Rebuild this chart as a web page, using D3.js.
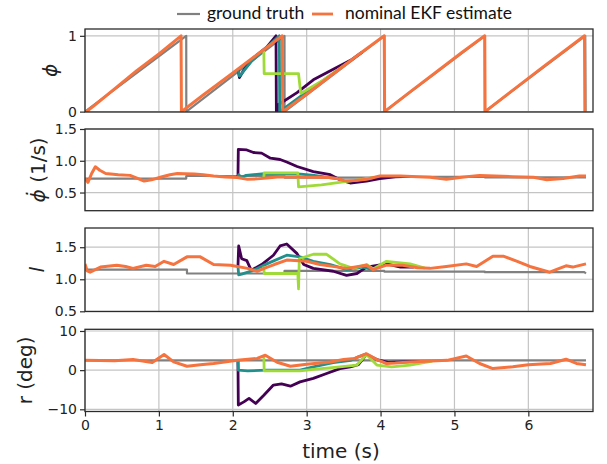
<!DOCTYPE html>
<html><head><meta charset="utf-8">
<script src="https://cdn.jsdelivr.net/npm/d3@7"></script>
<style>
html,body{margin:0;padding:0;background:#fff;}
svg{display:block;}
</style></head>
<body>
<svg id="chart" width="607" height="464"></svg>
<script>
// ---------- data (time in s, value) ----------
const xTicks = [0,1,2,3,4,5,6];
const legendLabels = ["ground truth","nominal EKF estimate"];

// panel 1: phase phi
const phiTruth = [[0,0],[1.37,1],[1.371,0],[2.70,1],[2.701,0],[4.05,1],[4.051,0],[5.41,1],[5.411,0],[6.77,1],[6.775,0]];
const phiEst = [[0.02,0],[0.15,0.1],[0.4,0.3],[0.7,0.54],[1.0,0.76],[1.30,1.0],[1.305,0],[1.6,0.22],[2.0,0.51],[2.3,0.73],[2.67,1.0],[2.675,0],[3.0,0.23],[3.36,0.5],[3.7,0.75],[4.05,1.0],[4.055,0],[4.4,0.26],[4.75,0.52],[5.1,0.78],[5.41,1.0],[5.415,0],[5.8,0.29],[6.2,0.59],[6.5,0.81],[6.76,1.0],[6.765,0]];
const phiPurple = [[2.07,0.56],[2.09,0.45],[2.15,0.55],[2.28,0.71],[2.46,0.85],[2.585,1.0],[2.59,0],[2.61,0],[2.615,0.09],[2.87,0.25],[3.09,0.42],[3.36,0.56],[3.6,0.68],[3.75,0.786]];
const phiTeal = [[2.07,0.56],[2.09,0.47],[2.12,0.5],[2.25,0.66],[2.45,0.84],[2.63,1.0],[2.635,0],[3.0,0.26],[3.4,0.53]];
const phiLime = [[2.42,0.8],[2.425,0.5],[2.89,0.5],[2.92,0.24],[3.2,0.40],[3.55,0.64]];

// panel 2: phase rate
const dphiTruth = [[0,0.72],[1.37,0.72],[1.37,0.76],[2.70,0.76],[2.70,0.735],[4.05,0.735],[4.05,0.745],[5.41,0.745],[5.41,0.74],[6.78,0.74]];
const dphiEst = [[0,0.72],[0.04,0.66],[0.09,0.8],[0.14,0.905],[0.2,0.85],[0.28,0.80],[0.45,0.78],[0.61,0.77],[0.72,0.72],[0.8,0.68],[0.9,0.70],[1.02,0.74],[1.15,0.78],[1.25,0.80],[1.35,0.795],[1.48,0.79],[1.6,0.78],[1.74,0.76],[1.9,0.745],[2.06,0.735],[2.2,0.71],[2.33,0.715],[2.46,0.73],[2.64,0.75],[2.85,0.745],[3.09,0.74],[3.3,0.735],[3.41,0.72],[3.5,0.69],[3.56,0.685],[3.65,0.69],[3.81,0.71],[3.99,0.76],[4.27,0.76],[4.5,0.75],[4.67,0.74],[4.89,0.71],[5.1,0.74],[5.34,0.77],[5.55,0.76],[5.79,0.75],[6.07,0.74],[6.25,0.70],[6.47,0.72],[6.69,0.76],[6.78,0.76]];
const dphiPurple = [[2.07,0.735],[2.075,1.18],[2.19,1.17],[2.28,1.13],[2.39,1.12],[2.51,1.04],[2.64,1.02],[2.73,0.98],[2.87,0.91],[3.09,0.83],[3.32,0.78],[3.45,0.70],[3.59,0.65],[3.81,0.68],[3.99,0.72],[4.2,0.745],[4.4,0.753]];
const dphiTeal = [[2.07,0.735],[2.08,0.78],[2.12,0.74],[2.18,0.77],[2.46,0.80],[2.92,0.79],[3.1,0.77],[3.4,0.72]];
const dphiLime = [[2.42,0.73],[2.425,0.81],[2.88,0.81],[2.89,0.59],[3.2,0.62],[3.52,0.67],[3.7,0.70],[3.9,0.735]];

// panel 3: l
const lTruth = [[0,1.15],[1.38,1.15],[1.38,1.09],[2.70,1.09],[2.70,1.13],[4.05,1.13],[4.05,1.12],[5.41,1.12],[5.41,1.11],[6.76,1.11],[6.78,1.09]];
const lEst = [[0,1.24],[0.03,1.13],[0.07,1.11],[0.21,1.19],[0.43,1.22],[0.55,1.2],[0.65,1.17],[0.83,1.22],[0.95,1.2],[1.07,1.28],[1.2,1.23],[1.38,1.35],[1.56,1.35],[1.74,1.23],[1.97,1.22],[2.2,1.17],[2.33,1.125],[2.45,1.18],[2.56,1.23],[2.73,1.30],[3.0,1.28],[3.18,1.23],[3.54,1.17],[3.7,1.2],[3.81,1.22],[3.9,1.15],[4.08,1.22],[4.3,1.22],[4.5,1.18],[4.67,1.17],[4.89,1.2],[5.16,1.24],[5.30,1.2],[5.52,1.36],[5.66,1.36],[5.85,1.28],[6.02,1.2],[6.29,1.11],[6.42,1.17],[6.51,1.21],[6.6,1.19],[6.78,1.24]];
const lPurple = [[2.07,1.2],[2.08,1.52],[2.12,1.32],[2.19,1.29],[2.25,1.14],[2.39,1.23],[2.55,1.375],[2.64,1.52],[2.73,1.55],[2.87,1.40],[2.96,1.23],[3.09,1.17],[3.36,1.125],[3.54,1.06],[3.68,1.09],[3.81,1.19],[4.08,1.24],[4.27,1.19],[4.45,1.19]];
const lTeal = [[2.07,1.2],[2.08,1.07],[2.12,1.08],[2.28,1.14],[2.46,1.24],[2.73,1.375],[2.91,1.35],[3.09,1.28],[3.32,1.23],[3.54,1.15],[3.76,1.19],[3.9,1.15]];
const lLime = [[2.42,1.2],[2.425,1.09],[2.88,1.09],[2.89,0.85],[2.90,1.32],[3.09,1.39],[3.27,1.39],[3.45,1.24],[3.63,1.17],[3.81,1.23],[3.9,1.16],[4.08,1.28],[4.4,1.24],[4.6,1.175]];

// panel 4: r (deg)
const rTruth = [[0,2.5],[6.78,2.5]];
const rEst = [[0,2.5],[0.4,2.4],[0.65,2.7],[0.91,1.95],[1.07,4.0],[1.2,2.1],[1.38,1.0],[1.56,1.4],[1.74,1.7],[2.06,2.5],[2.33,3.0],[2.44,3.8],[2.6,2.0],[2.78,1.0],[3.0,1.5],[3.32,2.1],[3.5,2.7],[3.65,3.0],[3.81,4.2],[3.95,2.7],[4.08,1.7],[4.2,1.8],[4.4,2.1],[4.9,2.5],[5.16,3.6],[5.34,1.7],[5.52,0.4],[5.79,0.85],[6.0,1.4],[6.3,1.7],[6.51,2.8],[6.65,1.7],[6.78,1.4]];
const rPurple = [[2.07,2.5],[2.075,-8.9],[2.15,-8.1],[2.22,-7.2],[2.31,-8.5],[2.42,-6.4],[2.55,-3.8],[2.66,-3.5],[2.78,-4.1],[2.91,-3.0],[3.09,-2.1],[3.27,-0.85],[3.45,0.4],[3.59,0.85],[3.7,1.4],[3.81,4.0],[3.95,2.7],[4.1,2.0],[4.3,2.1],[4.6,2.26]];
const rTeal = [[2.07,2.5],[2.075,0.0],[2.2,-0.2],[2.46,0.0],[2.91,0.0],[3.09,0.85],[3.36,1.9],[3.6,2.5],[3.7,3.4],[3.81,4.2]];
const rLime = [[2.42,3.8],[2.425,-0.2],[2.91,-0.2],[3.09,0.2],[3.45,0.85],[3.68,1.3],[3.81,4.0],[3.95,1.3],[4.15,0.85],[4.4,1.3],[4.7,2.3]];

const yTicks1 = [0,1], yTicks2 = [0.5,1.0,1.5], yTicks3 = [0.5,1.0,1.5], yTicks4 = [-10,0,10];

// ---------- styles ----------
const C = {truth:"#808080", est:"#f4733f", purple:"#440154", teal:"#21908d", lime:"#a0da39"};

const svg = d3.select("#chart");
const x = d3.scaleLinear().domain([0,6.875]).range([85,593]);

const panels = [
  {top:29, bottom:112, dom:[-0.005,1.09], ticks:yTicks1, fmt:d3.format("d"),
   series:[phiTruth,phiPurple,phiTeal,phiLime,phiEst], label:"phi", lx:50},
  {top:129, bottom:210.7, dom:[0.214,1.5], ticks:yTicks2, fmt:d3.format(".1f"),
   series:[dphiTruth,dphiPurple,dphiTeal,dphiLime,dphiEst], label:"dphi", lx:38},
  {top:228, bottom:311.5, dom:[0.497,1.80], ticks:yTicks3, fmt:d3.format(".1f"),
   series:[lTruth,lPurple,lTeal,lLime,lEst], label:"l", lx:37},
  {top:329.3, bottom:411.5, dom:[-10.56,10.43], ticks:yTicks4, fmt:d3.format("d"),
   series:[rTruth,rPurple,rTeal,rLime,rEst], label:"r", lx:25}
];
const colors = [C.truth, C.purple, C.teal, C.lime, C.est];
const widths = [2.2, 2.8, 2.8, 2.8, 3.0];

const defs = svg.append("defs");

panels.forEach((p,i)=>{
  const y = d3.scaleLinear().domain(p.dom).range([p.bottom,p.top]);
  const g = svg.append("g");
  const x0 = x.range()[0], x1 = x.range()[1];
  // grid
  g.selectAll("line.vg").data(xTicks).join("line")
    .attr("x1",d=>x(d)).attr("x2",d=>x(d)).attr("y1",p.top).attr("y2",p.bottom)
    .attr("stroke","#c4c4c4").attr("stroke-width",1.2);
  g.selectAll("line.hg").data(p.ticks).join("line")
    .attr("x1",x0).attr("x2",x1).attr("y1",d=>y(d)).attr("y2",d=>y(d))
    .attr("stroke","#c4c4c4").attr("stroke-width",1.2);
  // clip
  defs.append("clipPath").attr("id","clip"+i).append("rect")
    .attr("x",x0).attr("y",p.top).attr("width",x1-x0).attr("height",p.bottom-p.top);
  const line = d3.line().x(d=>x(d[0])).y(d=>y(d[1]));
  const lg = g.append("g").attr("clip-path",`url(#clip${i})`);
  p.series.forEach((s,k)=>{
    lg.append("path").attr("d",line(s)).attr("fill","none")
      .attr("stroke",colors[k]).attr("stroke-width",widths[k])
      .attr("stroke-linejoin","round").attr("stroke-linecap","butt");
  });
  // frame
  g.append("rect").attr("x",x0).attr("y",p.top).attr("width",x1-x0).attr("height",p.bottom-p.top)
    .attr("fill","none").attr("stroke","#2b2b2b").attr("stroke-width",1.3);
  // y axis
  const ax = g.append("g").attr("transform",`translate(${x0},0)`)
    .call(d3.axisLeft(y).tickValues(p.ticks).tickFormat(p.fmt).tickSize(5).tickPadding(3));
  ax.select(".domain").remove();
  ax.selectAll(".tick line").attr("stroke","#2b2b2b").attr("stroke-width",1.2);
  ax.selectAll(".tick text").attr("font-family","DejaVu Sans").attr("font-size",14).attr("fill","#222");
  // x axis on last panel
  if(i===panels.length-1){
    const bx = g.append("g").attr("transform",`translate(0,${p.bottom})`)
      .call(d3.axisBottom(x).tickValues(xTicks).tickFormat(d3.format("d")).tickSize(5).tickPadding(4));
    bx.select(".domain").remove();
    bx.selectAll(".tick line").attr("stroke","#2b2b2b").attr("stroke-width",1.2);
    bx.selectAll(".tick text").attr("font-family","DejaVu Sans").attr("font-size",14).attr("fill","#222");
  }
  // y label
  const cy = (p.top+p.bottom)/2;
  const t = svg.append("text").attr("transform",`translate(${p.lx},${cy}) rotate(-90)`)
    .attr("text-anchor","middle").attr("dominant-baseline","central")
    .attr("font-family","DejaVu Sans").attr("font-size",20).attr("fill","#222");
  if(p.label==="phi"){
    t.append("tspan").attr("font-style","italic").text("ϕ");
  } else if(p.label==="dphi"){
    t.append("tspan").attr("font-style","italic").text("ϕ\u0307");
    t.append("tspan").text(" (1/s)");
  } else if(p.label==="l"){
    t.append("tspan").attr("font-style","italic").text("l");
  } else {
    t.text("r (deg)");
  }
});

// x label
svg.append("text").attr("x",341).attr("y",458).attr("text-anchor","middle")
  .attr("font-family","DejaVu Sans").attr("font-size",20).attr("fill","#222").text("time (s)");

// legend
const leg = svg.append("g");
const legItems = [{x1:177,x2:200,tx:207,c:C.truth,w:2.2,label:legendLabels[0]},
                  {x1:312,x2:333,tx:345,c:C.est,w:2.8,label:legendLabels[1]}];
legItems.forEach(d=>{
  leg.append("line").attr("x1",d.x1).attr("x2",d.x2).attr("y1",14).attr("y2",14)
    .attr("stroke",d.c).attr("stroke-width",d.w);
  leg.append("text").attr("x",d.tx).attr("y",19).attr("font-family","Lato")
    .attr("font-size",17.5).attr("fill","#111").text(d.label);
});
</script>
</body></html>
